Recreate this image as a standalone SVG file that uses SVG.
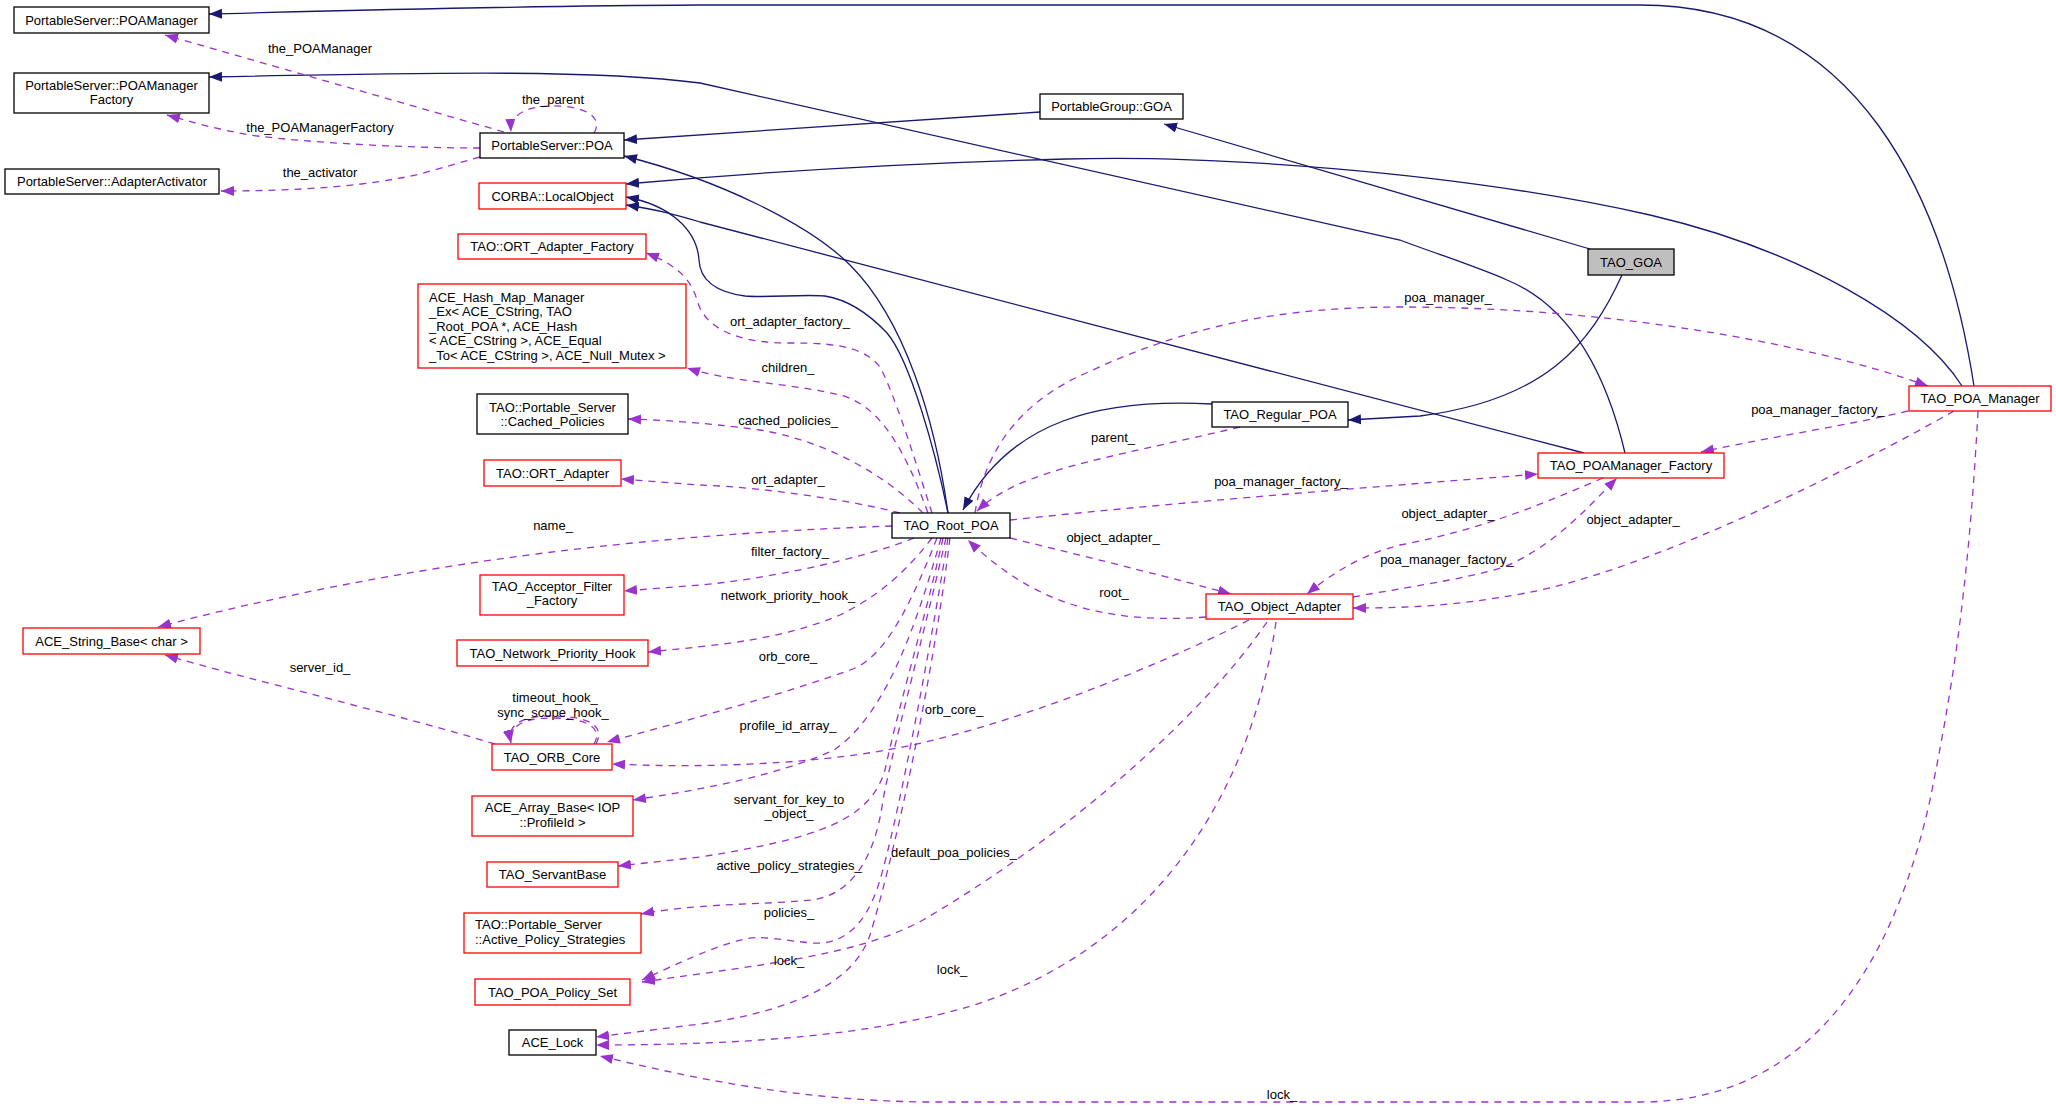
<svg xmlns="http://www.w3.org/2000/svg" width="2056" height="1108" viewBox="0 0 2056 1108">
<style>
text{font-family:"Liberation Sans",Arial,sans-serif;font-size:13px;fill:#000}
.c{text-anchor:middle}
.nb{fill:#fff;stroke:#000;stroke-width:1.3}
.nr{fill:#fff;stroke:#ff0000;stroke-width:1.3}
.ng{fill:#bfbfbf;stroke:#000;stroke-width:1.3}
.inh{fill:none;stroke:#191970;stroke-width:1.3;marker-end:url(#an)}
.use{fill:none;stroke:#9a32cd;stroke-width:1.3;stroke-dasharray:7,6;marker-end:url(#ap)}
</style>
<defs>
<marker id="an" markerUnits="userSpaceOnUse" markerWidth="14" markerHeight="12" refX="13" refY="5" orient="auto" viewBox="0 0 14 10"><path d="M0,0 L13,5 L0,10 z" fill="#191970"/></marker>
<marker id="ap" markerUnits="userSpaceOnUse" markerWidth="14" markerHeight="12" refX="13" refY="5" orient="auto" viewBox="0 0 14 10"><path d="M0,0 L13,5 L0,10 z" fill="#9a32cd"/></marker>
</defs>
<rect width="2056" height="1108" fill="#fff"/>
<g id="edges">
<path class="inh" d="M1974,386 C1945,200 1860,5 1640,5 L700,5 C500,6 330,11 209,14"/>
<path class="inh" d="M1625,453 C1610,390 1580,310 1507,280 C1480,268 1440,255 1400,240 L700,83 C600,70 450,72 209,77"/>
<path class="inh" d="M1962,386 C1920,320 1800,250 1650,215 C1450,170 1200,155 1066,159 C900,163 760,172 626,184"/>
<path class="inh" d="M1584,453 L700,222 C680,216 660,210 626,205"/>
<path class="inh" d="M948,513 C935,450 910,360 887,333 C870,315 850,300 825,296 C800,294 770,298 745,296 C715,292 700,280 699,260 C697,230 670,205 626,197"/>
<path class="inh" d="M948,513 C935,420 905,320 850,265 C810,225 720,180 624,156"/>
<path class="inh" d="M1040,112 L624,140"/>
<path class="inh" d="M1590,249 L1164,124"/>
<path class="inh" d="M1622,275 C1590,345 1545,400 1420,416 L1348,420"/>
<path class="inh" d="M1212,404 C1100,398 1010,420 963,510"/>

<path class="use" d="M504,132 L165,35"/>
<path class="use" d="M480,148 C400,148 300,142 250,135 C210,128 185,120 167,115"/>
<path class="use" d="M480,157 C440,168 420,175 400,178 C350,188 280,191 221,191"/>
<path class="use" d="M594,133 C605,115 580,105 550,106 C525,107 510,115 511,132"/>
<path class="use" d="M932,513 C915,460 895,395 880,367 C862,343 820,343 789,343 C740,343 705,330 697,300 C690,275 670,262 646,253"/>
<path class="use" d="M928,513 C905,450 880,405 840,395 C790,383 730,382 687,368"/>
<path class="use" d="M923,513 C880,470 820,440 760,430 C700,422 660,420 628,419"/>
<path class="use" d="M900,513 C850,500 760,487 700,485 L621,479"/>
<path class="use" d="M892,526 C720,532 450,550 158,627"/>
<path class="use" d="M914,538 C860,560 760,580 700,585 L624,591"/>
<path class="use" d="M932,538 C900,580 870,600 840,615 C780,640 720,645 648,652"/>
<path class="use" d="M937,538 C905,620 880,660 850,670 C780,695 700,717 607,742"/>
<path class="use" d="M941,538 C915,630 885,715 834,750 C780,775 700,790 633,800"/>
<path class="use" d="M943,538 C925,620 900,700 885,770 C870,820 820,838 700,857 L618,866"/>
<path class="use" d="M946,538 C920,650 890,760 883,800 C875,860 850,895 812,900 C760,905 700,903 641,914"/>
<path class="use" d="M948,538 C925,680 895,830 880,880 C865,930 840,945 812,943 C780,940 760,935 745,939 C720,945 700,953 642,980"/>
<path class="use" d="M950,538 C930,700 890,870 870,935 C855,980 800,1010 700,1024 L596,1037"/>
<path class="use" d="M975,513 C985,450 1020,400 1093,370 C1200,320 1300,307 1400,307 C1600,307 1800,340 1928,386"/>
<path class="use" d="M1240,427 C1100,460 1020,470 977,511"/>
<path class="use" d="M1010,520 C1200,500 1400,485 1538,474"/>
<path class="use" d="M1010,538 C1100,560 1180,580 1231,594"/>
<path class="use" d="M1206,617 C1100,625 1030,600 968,540"/>
<path class="use" d="M1603,478 C1540,505 1480,530 1400,545 C1360,555 1330,575 1307,594"/>
<path class="use" d="M1353,597 C1420,585 1490,575 1513,563 C1560,540 1590,505 1617,478"/>
<path class="use" d="M1954,411 C1850,470 1650,570 1526,593 C1450,607 1400,608 1353,608"/>
<path class="use" d="M1908,411 C1850,425 1780,435 1701,452"/>
<path class="use" d="M1249,620 C1150,670 1000,730 887,750 C800,765 700,768 612,764"/>
<path class="use" d="M1267,622 C1200,720 1060,840 923,920 C860,955 760,965 642,982"/>
<path class="use" d="M1276,622 C1250,800 1150,950 968,1007 C870,1035 750,1045 596,1045"/>
<path class="use" d="M1978,411 C1968,600 1950,700 1930,800 C1890,980 1800,1102 1640,1102 L923,1102 C800,1100 700,1080 600,1056"/>
<path class="use" d="M594,744 C605,725 580,718 552,718 C525,718 508,725 511,743"/>
<path class="use" d="M596,744 C607,723 582,716 552,716 C523,716 506,724 511,743"/>
<path class="use" d="M495,744 C400,715 250,680 165,655"/>

<text x="320" y="52.5" class="c">the_POAManager</text>
<text x="320" y="131.5" class="c">the_POAManagerFactory</text>
<text x="320" y="176.5" class="c">the_activator</text>
<text x="553" y="103.5" class="c">the_parent</text>
<text x="790" y="325.5" class="c">ort_adapter_factory_</text>
<text x="788" y="371.5" class="c">children_</text>
<text x="788" y="424.5" class="c">cached_policies_</text>
<text x="788" y="483.5" class="c">ort_adapter_</text>
<text x="553" y="529.5" class="c">name_</text>
<text x="790" y="555.5" class="c">filter_factory_</text>
<text x="788" y="599.5" class="c">network_priority_hook_</text>
<text x="788" y="660.5" class="c">orb_core_</text>
<text x="555" y="701.5" class="c">timeout_hook_</text>
<text x="553" y="716.5" class="c">sync_scope_hook_</text>
<text x="320" y="671.5" class="c">server_id_</text>
<text x="788" y="729.5" class="c">profile_id_array_</text>
<text x="789" y="803.5" class="c">servant_for_key_to</text>
<text x="789" y="818" class="c">_object_</text>
<text x="789" y="869.5" class="c">active_policy_strategies_</text>
<text x="954" y="856.5" class="c">default_poa_policies_</text>
<text x="789" y="916.5" class="c">policies_</text>
<text x="789" y="964.5" class="c">lock_</text>
<text x="952" y="973.5" class="c">lock_</text>
<text x="1282" y="1098.5" class="c">lock_</text>
<text x="1448" y="301.5" class="c">poa_manager_</text>
<text x="1113" y="441.5" class="c">parent_</text>
<text x="1281" y="485.5" class="c">poa_manager_factory_</text>
<text x="1113" y="541.5" class="c">object_adapter_</text>
<text x="1114" y="596.5" class="c">root_</text>
<text x="954" y="713.5" class="c">orb_core_</text>
<text x="1448" y="517.5" class="c">object_adapter_</text>
<text x="1447" y="563.5" class="c">poa_manager_factory_</text>
<text x="1633" y="523.5" class="c">object_adapter_</text>
<text x="1818" y="413.5" class="c">poa_manager_factory_</text>
</g>

<g id="n_POAManager"><rect class="nb" x="14" y="7" width="195" height="26"/><text x="111.5" y="24.5" class="c">PortableServer::POAManager</text></g>
<g id="n_POAManagerFactory"><rect class="nb" x="14" y="73" width="195" height="40"/><text x="111.5" y="89.5" class="c">PortableServer::POAManager</text><text x="111.5" y="104" class="c">Factory</text></g>
<g id="n_AdapterActivator"><rect class="nb" x="5" y="169" width="214" height="25"/><text x="112" y="186" class="c">PortableServer::AdapterActivator</text></g>
<g id="n_POA"><rect class="nb" x="480" y="133" width="144" height="25"/><text x="552" y="150" class="c">PortableServer::POA</text></g>
<g id="n_LocalObject"><rect class="nr" x="479" y="183" width="147" height="26"/><text x="552.5" y="200.5" class="c">CORBA::LocalObject</text></g>
<g id="n_ORTAdapterFactory"><rect class="nr" x="458" y="234" width="188" height="25"/><text x="552" y="251" class="c">TAO::ORT_Adapter_Factory</text></g>
<g id="n_HashMap"><rect class="nr" x="418" y="284" width="268" height="84"/>
<text x="429" y="301.5">ACE_Hash_Map_Manager</text>
<text x="429" y="316">_Ex&lt; ACE_CString, TAO</text>
<text x="429" y="330.5">_Root_POA *, ACE_Hash</text>
<text x="429" y="345">&lt; ACE_CString &gt;, ACE_Equal</text>
<text x="429" y="359.5">_To&lt; ACE_CString &gt;, ACE_Null_Mutex &gt;</text></g>
<g id="n_CachedPolicies"><rect class="nb" x="477" y="394" width="151" height="40"/><text x="552.5" y="411.5" class="c">TAO::Portable_Server</text><text x="552.5" y="425.5" class="c">::Cached_Policies</text></g>
<g id="n_ORTAdapter"><rect class="nr" x="484" y="460" width="137" height="26"/><text x="552.5" y="477.5" class="c">TAO::ORT_Adapter</text></g>
<g id="n_AcceptorFilter"><rect class="nr" x="480" y="575" width="144" height="40"/><text x="552" y="591" class="c">TAO_Acceptor_Filter</text><text x="552" y="605" class="c">_Factory</text></g>
<g id="n_NetworkPriorityHook"><rect class="nr" x="457" y="640" width="191" height="26"/><text x="552.5" y="657.5" class="c">TAO_Network_Priority_Hook</text></g>
<g id="n_StringBase"><rect class="nr" x="23" y="628" width="177" height="26"/><text x="111.5" y="645.5" class="c">ACE_String_Base&lt; char &gt;</text></g>
<g id="n_ORBCore"><rect class="nr" x="492" y="744" width="120" height="26"/><text x="552" y="761.5" class="c">TAO_ORB_Core</text></g>
<g id="n_ArrayBase"><rect class="nr" x="472" y="796" width="161" height="40"/><text x="552.5" y="812" class="c">ACE_Array_Base&lt; IOP</text><text x="552.5" y="827" class="c">::ProfileId &gt;</text></g>
<g id="n_ServantBase"><rect class="nr" x="487" y="862" width="131" height="25"/><text x="552.5" y="879" class="c">TAO_ServantBase</text></g>
<g id="n_ActivePolicy"><rect class="nr" x="464" y="913" width="177" height="40"/><text x="475" y="929">TAO::Portable_Server</text><text x="475" y="944">::Active_Policy_Strategies</text></g>
<g id="n_POAPolicySet"><rect class="nr" x="475" y="979" width="155" height="26"/><text x="552.5" y="996.5" class="c">TAO_POA_Policy_Set</text></g>
<g id="n_ACELock"><rect class="nb" x="509" y="1030" width="87" height="25"/><text x="552.5" y="1047" class="c">ACE_Lock</text></g>
<g id="n_GOA"><rect class="nb" x="1040" y="94" width="143" height="25"/><text x="1111.5" y="111" class="c">PortableGroup::GOA</text></g>
<g id="n_RootPOA"><rect class="nb" x="892" y="513" width="118" height="25"/><text x="951" y="530" class="c">TAO_Root_POA</text></g>
<g id="n_RegularPOA"><rect class="nb" x="1212" y="402" width="136" height="25"/><text x="1280" y="419" class="c">TAO_Regular_POA</text></g>
<g id="n_ObjectAdapter"><rect class="nr" x="1206" y="594" width="147" height="25"/><text x="1279.5" y="611" class="c">TAO_Object_Adapter</text></g>
<g id="n_TAOGOA"><rect class="ng" x="1588" y="249" width="86" height="26"/><text x="1631" y="266.5" class="c">TAO_GOA</text></g>
<g id="n_POAManagerImpl"><rect class="nr" x="1909" y="386" width="142" height="25"/><text x="1980" y="403" class="c">TAO_POA_Manager</text></g>
<g id="n_POAManagerFactoryImpl"><rect class="nr" x="1538" y="453" width="186" height="25"/><text x="1631" y="470" class="c">TAO_POAManager_Factory</text></g>
</svg>
